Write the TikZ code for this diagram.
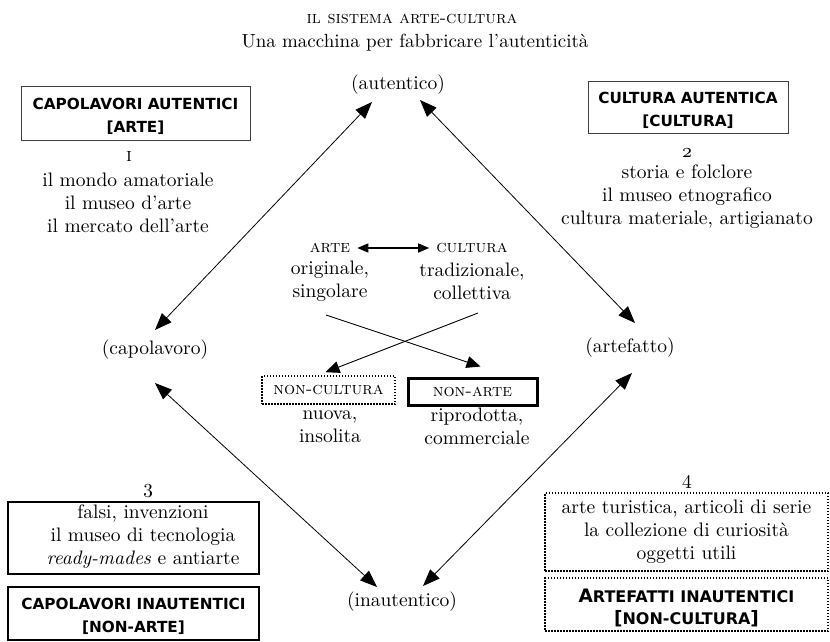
\documentclass[tikz,border=0pt]{standalone}
\usepackage{fontspec}
\setmainfont{lmroman10-regular.otf}[
  ItalicFont=lmroman10-italic.otf,
  BoldFont=lmroman10-bold.otf,
  SmallCapsFont=lmromancaps10-regular.otf]
\newfontfamily\boxfont{DejaVu Sans}
\usetikzlibrary{arrows.meta}
\newcommand{\smc}[1]{{\fontsize{16}{23}\selectfont #1}}
\newcommand{\topstrut}[1]{\rule{0pt}{#1}}
\begin{document}
\begin{tikzpicture}[x=1pt,y=-1pt,
  txt/.style={font=\fontsize{19.5}{23}\selectfont, align=center, inner sep=0pt},
  sclab/.style={font=\fontsize{17.5}{23}\selectfont, align=center, inner sep=0pt},
  hdr/.style={font=\boxfont\bfseries\fontsize{15.3}{23}\selectfont, align=center, inner sep=0pt},
  thinbox/.style={draw=black!75, line width=1pt},
  thickbox/.style={draw, line width=2.6pt},
  dotbox/.style={draw, line width=1.6pt, dash pattern=on 1.5pt off 1.5pt},
  axis/.style={line width=0.8pt, {Triangle[length=17pt,width=13pt]}-{Triangle[length=17pt,width=13pt]}},
  cross/.style={line width=0.9pt, -{Triangle[length=14pt,width=12pt]}},
  pair/.style={line width=1.2pt, {Triangle[length=11pt,width=9pt]}-{Triangle[length=11pt,width=9pt]}}
]
\useasboundingbox (0,0) rectangle (830,641);

% title
\node[sclab] (t1) at (412,19) {\textsc{il sistema arte-cultura}};
\node[txt, font=\fontsize{19}{23}\selectfont] (t2) at (415,43) {Una macchina per fabbricare l'autenticità};

% corners of the square
\node[txt] (aut) at (398,85) {(autentico)};
\node[txt] (inaut) at (402,602) {(inautentico)};
\node[txt] (capo) at (155,350) {(capolavoro)};
\node[txt] (arte) at (630,348) {(artefatto)};

\coordinate (autL) at ([shift={(-26,17)}]aut.center);
\coordinate (autR) at ([shift={(22,15)}]aut.center);
\coordinate (inL) at ([shift={(-25,-15)}]inaut.center);
\coordinate (inR) at ([shift={(21,-16)}]inaut.center);
\coordinate (capT) at ([shift={(0,-20)}]capo.center);
\coordinate (capB) at ([shift={(0,33)}]capo.center);
\coordinate (artT) at ([shift={(5,-25)}]arte.center);
\coordinate (artB) at ([shift={(2,25)}]arte.center);

\draw[axis] (capT) -- (autL);
\draw[axis] (autR) -- (artT);
\draw[axis] (capB) -- (inL);
\draw[axis] (artB) -- (inR);

% quadrant 1
\node[hdr, thinbox, minimum width=229, minimum height=54] (q1h) at (135.5,113) {\topstrut{17.5pt}CAPOLAVORI AUTENTICI\\{}[ARTE]};
\node[txt] (q1n) at (129,156) {\textsc{i}};
\node[txt] (q1t) at (128,203) {il mondo amatoriale\\il museo d'arte\\il mercato dell'arte};

% quadrant 2
\node[hdr, thinbox, minimum width=200, minimum height=52] (q2h) at (688,107) {\topstrut{17.5pt}CULTURA AUTENTICA\\{}[CULTURA]};
\node[txt] (q2n) at (687,153) {\oldstylenums{2}};
\node[txt] (q2t) at (687,197) {storia e folclore\\il museo etnografico\\cultura materiale, artigianato};

% centre
\node[sclab] (ca) at (330,248) {\textsc{arte}};
\node[sclab] (cc) at (472,248) {\textsc{cultura}};
\node[txt] (cat) at (330,281) {originale,\\singolare};
\node[txt] (cct) at (472,281) {tradizionale,\\collettiva};
\draw[pair] ([xshift=7]ca.east) -- ([xshift=-7]cc.west);

\node[sclab, dotbox, minimum width=133, minimum height=28] (nc) at (328.5,390) {\textsc{non-cultura}};
\node[sclab, draw, line width=3pt, minimum width=129, minimum height=27] (na) at (472.5,391.5) {\textsc{non-arte}};
\node[txt] (nct) at (330,427) {nuova,\\insolita};
\node[txt] (nat) at (477,426) {riprodotta,\\commerciale};

\coordinate (xa) at (326,315);
\coordinate (xb) at (478,313);
\draw[cross] (xa) -- ([xshift=8,yshift=10]na.north);
\draw[cross] (xb) -- ([xshift=-3,yshift=3]nc.north);

% quadrant 3
\node[txt] (q3n) at (148,491) {\oldstylenums{3}};
\node[thickbox, minimum width=251, minimum height=72] (q3box) at (133.5,538) {};
\node[txt] (q3t) at (143,537) {falsi, invenzioni\\il museo di tecnologia\\\textit{ready-mades} e antiarte};
\node[hdr, thickbox, minimum width=251, minimum height=53] (q3h) at (133.5,613.5) {\topstrut{16pt}CAPOLAVORI INAUTENTICI\\{}[NON-ARTE]};

% quadrant 4
\node[txt] (q4n) at (687,482) {4};
\node[txt, dotbox, minimum width=283, minimum height=78] (q4t) at (686.5,532) {arte turistica, articoli di serie\\la collezione di curiosità\\oggetti utili};
\node[hdr, dotbox, minimum width=283, minimum height=53, font=\boxfont\bfseries\fontsize{18.5}{22}\selectfont] (q4h) at (686.5,604.5) {\topstrut{21pt}A\smc{RTEFATTI INAUTENTICI}\\{}[\smc{NON-CULTURA}]};
\end{tikzpicture}
\end{document}
